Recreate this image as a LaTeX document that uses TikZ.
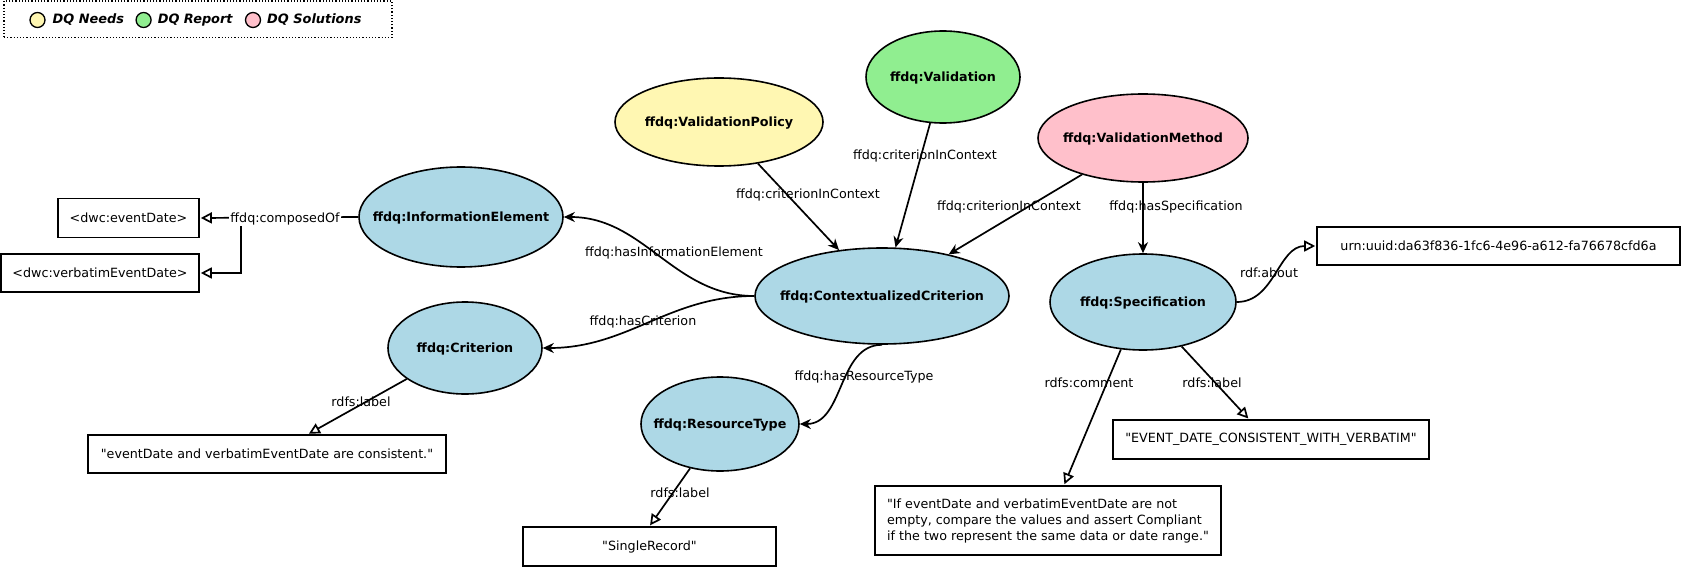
\documentclass[tikz,border=0pt]{standalone}
\usepackage{fontspec}
\newfontfamily\dvsans{DejaVu Sans}
\usetikzlibrary{arrows.meta,shapes.geometric,calc}
\definecolor{cyellow}{HTML}{FFF7B2}
\definecolor{cgreen}{HTML}{90EE90}
\definecolor{cpink}{HTML}{FFC0CB}
\definecolor{cblue}{HTML}{ADD8E6}
\newcommand{\elltext}[1]{\makebox[0pt]{\raisebox{-0.36em}[0pt][0pt]{#1}}}
\begin{document}
\begin{tikzpicture}[x=1pt,y=-1pt,
  every node/.style={font=\dvsans\fontsize{12.7}{16}\selectfont},
  ell/.style={ellipse,draw,line width=1.6pt,inner sep=0pt,font=\dvsans\fontsize{12.7}{16}\selectfont\bfseries},
  valbox/.style={draw,line width=1.6pt,rectangle,inner sep=0pt},
  rel/.style={line width=1.7pt,-{Stealth[length=11pt,width=10pt,inset=3.5pt]}},
  lit/.style={line width=1.7pt,-{Triangle[open,length=11pt,width=11pt,fill=white]},shorten >=1pt},
  elab/.style={inner sep=1pt},
  legdot/.style={circle,draw,line width=1.3pt,minimum size=15pt,inner sep=0pt},
  legtxt/.style={anchor=west,inner sep=0pt,font=\dvsans\fontsize{12.9}{16}\selectfont\bfseries\itshape}
]
\useasboundingbox (0,0) rectangle (1681,567);
% legend
\node[draw,dotted,line width=1.2pt,minimum width=388pt,minimum height=36.5pt,inner sep=0pt] (legend) at (198,19.25) {};
\node[legdot,fill=cyellow] (ly) at (37.5,20) {};
\node[legtxt] (lyt) at (52.5,20) {DQ Needs};
\node[legdot,fill=cgreen] (lg) at (143.6,20) {};
\node[legtxt] (lgt) at (157.6,20) {DQ Report};
\node[legdot,fill=cpink] (lp) at (253,20) {};
\node[legtxt] (lpt) at (267,20) {DQ Solutions};
% ellipses
\node[ell,fill=cyellow,minimum width=208pt,minimum height=88pt] (VP) at (719,122) {\elltext{ffdq:ValidationPolicy}};
\node[ell,fill=cgreen,minimum width=154pt,minimum height=92pt] (V) at (943,77) {\elltext{ffdq:Validation}};
\node[ell,fill=cpink,minimum width=210pt,minimum height=88pt] (VM) at (1143,138) {\elltext{ffdq:ValidationMethod}};
\node[ell,fill=cblue,minimum width=204pt,minimum height=100pt] (IE) at (461,217) {\elltext{ffdq:InformationElement}};
\node[ell,fill=cblue,minimum width=254pt,minimum height=96pt] (CC) at (882,296) {\elltext{ffdq:ContextualizedCriterion}};
\node[ell,fill=cblue,minimum width=154pt,minimum height=92pt] (Cr) at (465,348) {\elltext{ffdq:Criterion}};
\node[ell,fill=cblue,minimum width=158pt,minimum height=94pt] (RT) at (720,424) {\elltext{ffdq:ResourceType}};
\node[ell,fill=cblue,minimum width=186pt,minimum height=96pt] (Sp) at (1143,302) {\elltext{ffdq:Specification}};
% boxes
\node[valbox,minimum width=141pt,minimum height=39pt] (ed) at (128.5,218) {<dwc:eventDate>};
\node[valbox,minimum width=198pt,minimum height=38pt] (ved) at (100,273) {<dwc:verbatimEventDate>};
\node[valbox,minimum width=363pt,minimum height=38pt] (urn) at (1498.5,246) {urn:uuid:da63f836-1fc6-4e96-a612-fa76678cfd6a};
\node[valbox,minimum width=358pt,minimum height=38pt] (crl) at (267,454) {"eventDate and verbatimEventDate are consistent."};
\node[valbox,minimum width=253pt,minimum height=39pt] (sr) at (649.5,546.5) {"SingleRecord"};
\node[valbox,minimum width=316pt,minimum height=39pt] (evl) at (1271,439.5) {"EVENT\_DATE\_CONSISTENT\_WITH\_VERBATIM"};
\node[valbox,minimum width=346pt,minimum height=69pt,align=left] (cm) at (1048,520.5) {"If eventDate and verbatimEventDate are not\\empty, compare the values and assert Compliant\\if the two represent the same data or date range."};
% edges
\draw[rel] (VP) -- (CC);
\draw[rel] (V) -- (CC);
\draw[rel] (VM) -- (CC.32);
\draw[rel] (VM.south) -- (Sp.north);
\draw[rel] (CC.west) to[out=180,in=0] (IE.east);
\draw[rel] (CC.west) to[out=180,in=0] (Cr.east);
\draw[rel] (CC.south) to[out=180,in=0] (RT.east);
\coordinate (br) at (241,218);
\draw[lit] (IE.west) -- (ed.east);
\draw[lit] (br) |- (ved.east);
\draw[lit] (Cr.208) -- ($(crl.north)+(41,0)$);
\draw[lit] (RT.236) -- (sr.north);
\draw[lit] (Sp.245) -- ($(cm.north)+(16,0)$);
\draw[lit] (Sp.311) -- ($(evl.north)+(-22,0)$);
\draw[lit] (Sp.east) to[out=0,in=180] (urn.west);
% edge labels
\node[elab] (l1) at (808,195) {ffdq:criterionInContext};
\node[elab] (l2) at (925,156) {ffdq:criterionInContext};
\node[elab] (l3) at (1009,207) {ffdq:criterionInContext};
\node[elab] (l4) at (1176,207) {ffdq:hasSpecification};
\node[elab] (l5) at (674,253) {ffdq:hasInformationElement};
\node[elab] (l6) at (643,322) {ffdq:hasCriterion};
\node[elab] (l7) at (864,377) {ffdq:hasResourceType};
\node[elab,fill=white] (l8) at (285,219) {ffdq:composedOf};
\node[elab] (l9) at (361,402) {rdfs:label};
\node[elab] (l10) at (680,493) {rdfs:label};
\node[elab] (l11) at (1089,383) {rdfs:comment};
\node[elab] (l12) at (1212,383) {rdfs:label};
\node[elab] (l13) at (1269,273) {rdf:about};
\end{tikzpicture}
\end{document}
